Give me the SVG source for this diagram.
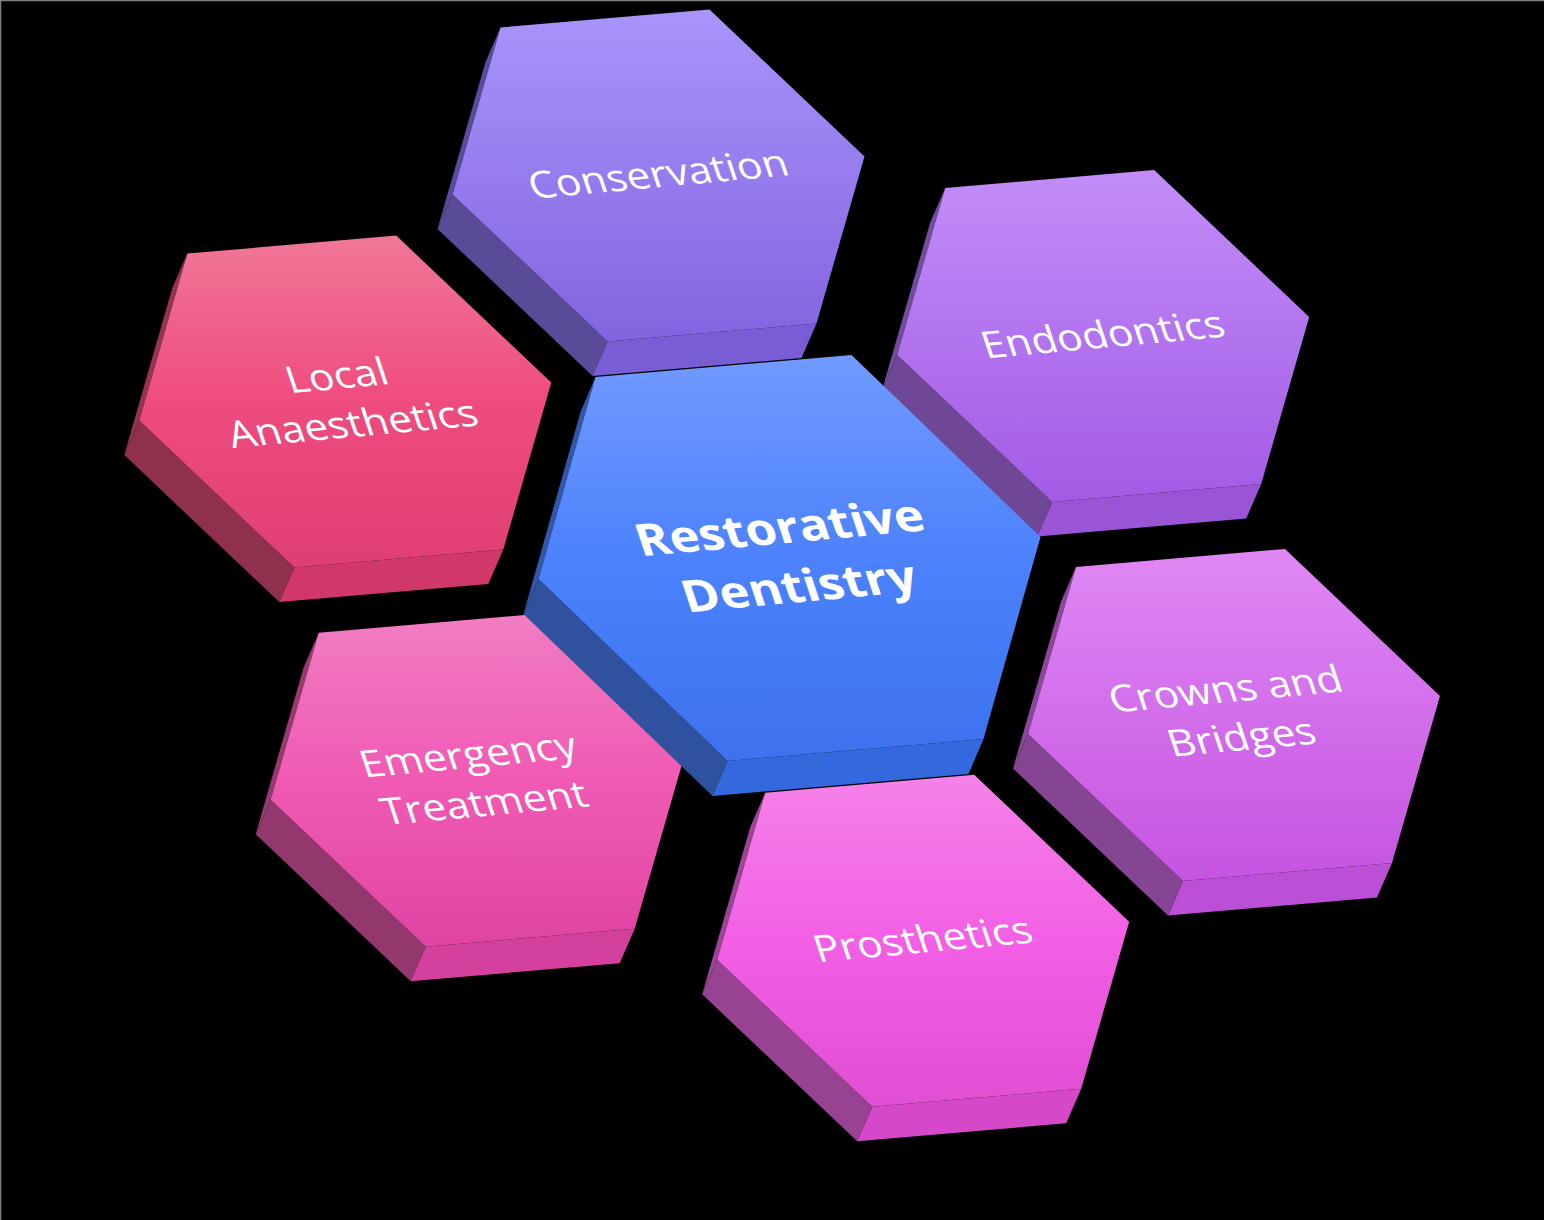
<svg xmlns="http://www.w3.org/2000/svg" width="1544" height="1220" viewBox="0 0 1544 1220">
<style>
.lbl{font-family:"Open Sans","Noto Sans","Liberation Sans",sans-serif;font-size:42px;fill:#ffffff;text-anchor:middle}
.lblc{font-family:"Open Sans","Noto Sans","Liberation Sans",sans-serif;font-size:50px;font-weight:700;fill:#ffffff;text-anchor:middle}
</style>
<defs>
<linearGradient id="gCons" x1="0" y1="0" x2="0" y2="1"><stop offset="0" stop-color="#a994fb"/><stop offset="1" stop-color="#8364e0"/></linearGradient>
<linearGradient id="gLocal" x1="0" y1="0" x2="0" y2="1"><stop offset="0" stop-color="#f07797"/><stop offset="0.5" stop-color="#ef4c7e"/><stop offset="1" stop-color="#de3f72"/></linearGradient>
<linearGradient id="gEndo" x1="0" y1="0" x2="0" y2="1"><stop offset="0" stop-color="#c28df8"/><stop offset="1" stop-color="#a35be5"/></linearGradient>
<linearGradient id="gCrown" x1="0" y1="0" x2="0" y2="1"><stop offset="0" stop-color="#e088f4"/><stop offset="1" stop-color="#c554e1"/></linearGradient>
<linearGradient id="gEmer" x1="0" y1="0" x2="0" y2="1"><stop offset="0" stop-color="#f17dc2"/><stop offset="0.5" stop-color="#f05ab4"/><stop offset="1" stop-color="#de45a2"/></linearGradient>
<linearGradient id="gPros" x1="0" y1="0" x2="0" y2="1"><stop offset="0" stop-color="#f582e9"/><stop offset="0.5" stop-color="#f35fe5"/><stop offset="1" stop-color="#df4fd2"/></linearGradient>
<linearGradient id="gCenter" x1="0" y1="0" x2="0" y2="1"><stop offset="0" stop-color="#729aff"/><stop offset="0.5" stop-color="#4c82fc"/><stop offset="1" stop-color="#3d71ee"/></linearGradient>
</defs>
<rect x="0" y="0" width="1544" height="1220" fill="#000000"/>
<path d="M0.5,1220 V0.5 H1544" fill="none" stroke="#808080" stroke-width="1.5"/>

<g id="conservation" transform="translate(658.5,175.5)">
<polygon points="-158,-148 -206,19 -221,53.5 -173,-113.5" fill="#5a4c9c"/>
<polygon points="-206,19 -51,166 -66,200.5 -221,53.5" fill="#5a4b98"/>
<polygon points="-51,166 158,148 143,182.5 -66,200.5" fill="#785dd4"/>
<polygon points="-158,-148 51,-166 206,-19 158,148 -51,166 -206,19" fill="url(#gCons)"/>
<text class="lbl" transform="matrix(0.9957,-0.0918,0.29,0.873,0,0)"><tspan x="0" y="13">Conservation</tspan></text>
</g>

<g id="local-anaesthetics" transform="translate(345.3,401.6)">
<polygon points="-158,-148 -206,19 -221,53.5 -173,-113.5" fill="#953450"/>
<polygon points="-206,19 -51,166 -66,200.5 -221,53.5" fill="#8f304c"/>
<polygon points="-51,166 158,148 143,182.5 -66,200.5" fill="#cf3868"/>
<polygon points="-158,-148 51,-166 206,-19 158,148 -51,166 -206,19" fill="url(#gLocal)"/>
<text class="lbl" transform="matrix(0.9957,-0.0918,0.29,0.873,0,0)"><tspan x="0" y="-15">Local</tspan><tspan x="0" y="40">Anaesthetics</tspan></text>
</g>

<g id="endodontics" transform="translate(1103.2,336)">
<polygon points="-158,-148 -206,19 -221,53.5 -173,-113.5" fill="#734c9e"/>
<polygon points="-206,19 -51,166 -66,200.5 -221,53.5" fill="#6e4897"/>
<polygon points="-51,166 158,148 143,182.5 -66,200.5" fill="#9955d6"/>
<polygon points="-158,-148 51,-166 206,-19 158,148 -51,166 -206,19" fill="url(#gEndo)"/>
<text class="lbl" transform="matrix(0.9957,-0.0918,0.29,0.873,0,0)"><tspan x="0" y="13">Endodontics</tspan></text>
</g>

<g id="emergency-treatment" transform="translate(476.7,780.7)">
<polygon points="-158,-148 -206,19 -221,53.5 -173,-113.5" fill="#973a70"/>
<polygon points="-206,19 -51,166 -66,200.5 -221,53.5" fill="#93386c"/>
<polygon points="-51,166 158,148 143,182.5 -66,200.5" fill="#d4409e"/>
<polygon points="-158,-148 51,-166 206,-19 158,148 -51,166 -206,19" fill="url(#gEmer)"/>
<text class="lbl" transform="matrix(0.9957,-0.0918,0.29,0.873,0,0)"><tspan x="0" y="-15">Emergency</tspan><tspan x="0" y="40">Treatment</tspan></text>
</g>

<g id="crowns-and-bridges" transform="translate(1234,715)">
<polygon points="-158,-148 -206,19 -221,53.5 -173,-113.5" fill="#8a4898"/>
<polygon points="-206,19 -51,166 -66,200.5 -221,53.5" fill="#864593"/>
<polygon points="-51,166 158,148 143,182.5 -66,200.5" fill="#bb4fd5"/>
<polygon points="-158,-148 51,-166 206,-19 158,148 -51,166 -206,19" fill="url(#gCrown)"/>
<text class="lbl" transform="matrix(0.9957,-0.0918,0.29,0.873,0,0)"><tspan x="0" y="-15">Crowns and</tspan><tspan x="0" y="40">Bridges</tspan></text>
</g>

<g id="prosthetics" transform="translate(923.2,940.8)">
<polygon points="-158,-148 -206,19 -221,53.5 -173,-113.5" fill="#9c4597"/>
<polygon points="-206,19 -51,166 -66,200.5 -221,53.5" fill="#984292"/>
<polygon points="-51,166 158,148 143,182.5 -66,200.5" fill="#d448c9"/>
<polygon points="-158,-148 51,-166 206,-19 158,148 -51,166 -206,19" fill="url(#gPros)"/>
<text class="lbl" transform="matrix(0.9957,-0.0918,0.29,0.873,0,0)"><tspan x="0" y="13">Prosthetics</tspan></text>
</g>

<g id="restorative-dentistry" transform="translate(789.5,558)">
<polygon points="-194,-181 -251,21 -266,56 -209,-146" fill="#3357a8"/>
<polygon points="-251,21 -62,203 -77,238 -266,56" fill="#30529e"/>
<polygon points="-62,203 194,181 179,216 -77,238" fill="#3468dd"/>
<polygon points="-194,-181 62,-203 251,-21 194,181 -62,203 -251,21" fill="url(#gCenter)"/>
<text class="lblc" transform="matrix(0.9957,-0.0918,0.29,0.873,0,0)"><tspan x="0" y="-17">Restorative</tspan><tspan x="0" y="50">Dentistry</tspan></text>
</g>

<g id="connectors"/>
</svg>
